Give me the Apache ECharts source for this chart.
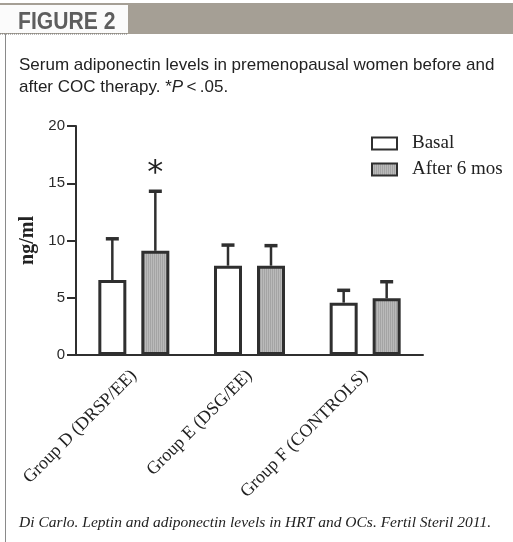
<!DOCTYPE html>
<html>
<head>
<meta charset="utf-8">
<script src="https://cdn.jsdelivr.net/npm/echarts@6/dist/echarts.min.js"></script>
<style>
  html, body { margin: 0; padding: 0; background: #fff; }
  #chart { width: 513px; height: 542px; }
</style>
</head>
<body>
<div id="chart"></div>
<script>
// Serum adiponectin (ng/ml), mean and upper SD per group
const categories = ['Group D (DRSP/EE)', 'Group E (DSG/EE)', 'Group F (CONTROLS)'];
const basalMean = [6.55, 7.8, 4.57];
const basalUpper = [10.15, 9.6, 5.65];
const afterMean = [9.1, 7.8, 4.95];
const afterUpper = [14.3, 9.55, 6.4];
const significance = ['*', '', ''];
const yTicks = [0, 5, 10, 15, 20];

const seriesNames = ['Basal', 'After 6 mos'];
const captionLine1 = 'Serum adiponectin levels in premenopausal women before and';
const captionLine2 = ['after COC therapy. *', 'P', '\u2009<\u2009.05.'];
const sourceNote = 'Di Carlo. Leptin and adiponectin levels in HRT and OCs. Fertil Steril 2011.';

const BAR_W = 28;
const BAR_GAP = 15;
const INK = '#2f2f2f';
const SERIF = '"Liberation Serif", "Times New Roman", serif';
const SANS = '"Liberation Sans", Arial, sans-serif';

// fine vertical striping for the grey bars
function stripePattern() {
  const c = document.createElement('canvas');
  c.width = 4; c.height = 4;
  const g = c.getContext('2d');
  g.fillStyle = '#bababa'; g.fillRect(0, 0, 4, 4);
  g.fillStyle = '#a4a4a4'; g.fillRect(0, 0, 1, 4); g.fillRect(2, 0, 1, 4);
  return { image: c, repeat: 'repeat' };
}
const greyFill = stripePattern();

const chart = echarts.init(document.getElementById('chart'), null, { renderer: 'canvas' });

// error bars (upper whisker only) + significance mark
function errorSeries(means, uppers, sideSign, marks) {
  return {
    type: 'custom',
    silent: true,
    z: 5,
    data: means.map((m, i) => [i, m, uppers[i], marks ? marks[i] : '']),
    renderItem: function (params, api) {
      const i = api.value(0);
      const base = api.coord([i, api.value(1)]);
      const top = api.coord([i, api.value(2)]);
      const x = base[0] + sideSign * (BAR_W + BAR_GAP) / 2;
      const children = [
        { type: 'line', shape: { x1: x, y1: base[1], x2: x, y2: top[1] },
          style: { stroke: INK, lineWidth: 2.5 } },
        { type: 'line', shape: { x1: x - 6.5, y1: top[1], x2: x + 6.5, y2: top[1] },
          style: { stroke: INK, lineWidth: 3.5 } }
      ];
      const mark = api.value(3);
      if (mark) {
        children.push({ type: 'text', style: {
          text: mark, x: x, y: top[1] - 18, align: 'center', verticalAlign: 'middle',
          font: '32px "DejaVu Sans"', fill: '#222' } });
      }
      return { type: 'group', children: children };
    }
  };
}

const option = {
  animation: false,
  backgroundColor: '#fff',
  grid: { left: 76, right: 90, top: 126, bottom: 187 },
  legend: {
    data: seriesNames,
    orient: 'vertical',
    left: 371,
    top: 134,
    padding: 0,
    icon: 'rect',
    itemWidth: 25,
    itemHeight: 12,
    itemGap: 7,
    selectedMode: false,
    textStyle: { fontFamily: SERIF, fontSize: 19, color: '#222', padding: [0, 0, 0, 10] }
  },
  xAxis: {
    type: 'category',
    data: categories,
    boundaryGap: true,
    axisLine: { lineStyle: { color: INK, width: 2 } },
    axisTick: { alignWithLabel: true, length: 7, lineStyle: { color: INK, width: 2 } },
    axisLabel: {
      rotate: 45, margin: 18, interval: 0,
      fontFamily: SERIF, fontSize: 18, color: '#222'
    }
  },
  yAxis: {
    type: 'value',
    min: yTicks[0], max: yTicks[yTicks.length - 1], interval: yTicks[1] - yTicks[0],
    name: 'ng/ml',
    nameLocation: 'middle',
    nameGap: 34,
    nameTextStyle: { fontFamily: SERIF, fontWeight: 'bold', fontSize: 20, color: '#222' },
    splitLine: { show: false },
    axisLine: { show: true, lineStyle: { color: INK, width: 2 } },
    axisTick: { show: true, inside: false, length: 9, lineStyle: { color: INK, width: 2 } },
    axisLabel: { margin: 11, fontFamily: SANS, fontSize: 15, color: '#2a2a2a' }
  },
  series: [
    {
      name: seriesNames[0], type: 'bar', data: basalMean,
      barWidth: BAR_W, barGap: (BAR_GAP / BAR_W * 100) + '%',
      itemStyle: { color: '#fff', borderColor: INK, borderWidth: 3 }
    },
    {
      name: seriesNames[1], type: 'bar', data: afterMean,
      barWidth: BAR_W,
      itemStyle: { color: greyFill, borderColor: INK, borderWidth: 3 }
    },
    errorSeries(basalMean, basalUpper, -1, null),
    errorSeries(afterMean, afterUpper, 1, significance)
  ],
  graphic: [
    // header band
    { type: 'rect', left: 0, top: 3, shape: { width: 513, height: 31 }, style: { fill: '#a59f95' }, silent: true },
    { type: 'rect', left: 0, top: 5, shape: { width: 128, height: 28 }, style: { fill: '#fbfbfb' }, silent: true },
    { type: 'line', shape: { x1: 0, y1: 34, x2: 128, y2: 34 }, style: { stroke: '#777', lineWidth: 1, lineDash: [1, 1] }, silent: true },
    { type: 'text', x: 18, y: 10, scaleX: 0.88, style: {
        text: 'FIGURE 2', font: 'bold 24px "Liberation Sans", Arial, sans-serif', fill: '#5e5e5e' } },
    // panel border
    { type: 'line', shape: { x1: 5.5, y1: 34, x2: 5.5, y2: 542 }, style: { stroke: '#8a8a8a', lineWidth: 1 }, silent: true },
    // caption
    { type: 'text', left: 19, top: 57, style: {
        text: captionLine1, font: '17px ' + SANS, fill: '#222' } },
    { type: 'text', left: 19, top: 79, style: {
        text: '{n|' + captionLine2[0] + '}{i|' + captionLine2[1] + '}{n|' + captionLine2[2] + '}',
        rich: {
          n: { fontFamily: SANS, fontSize: 17, fill: '#222' },
          i: { fontFamily: SANS, fontSize: 17, fontStyle: 'italic', fill: '#222' }
        } } },
    // source note
    { type: 'text', left: 19, top: 515, style: {
        text: sourceNote, font: 'italic 15.5px ' + SERIF, fill: '#222' } }
  ]
};

chart.setOption(option);
</script>
</body>
</html>
